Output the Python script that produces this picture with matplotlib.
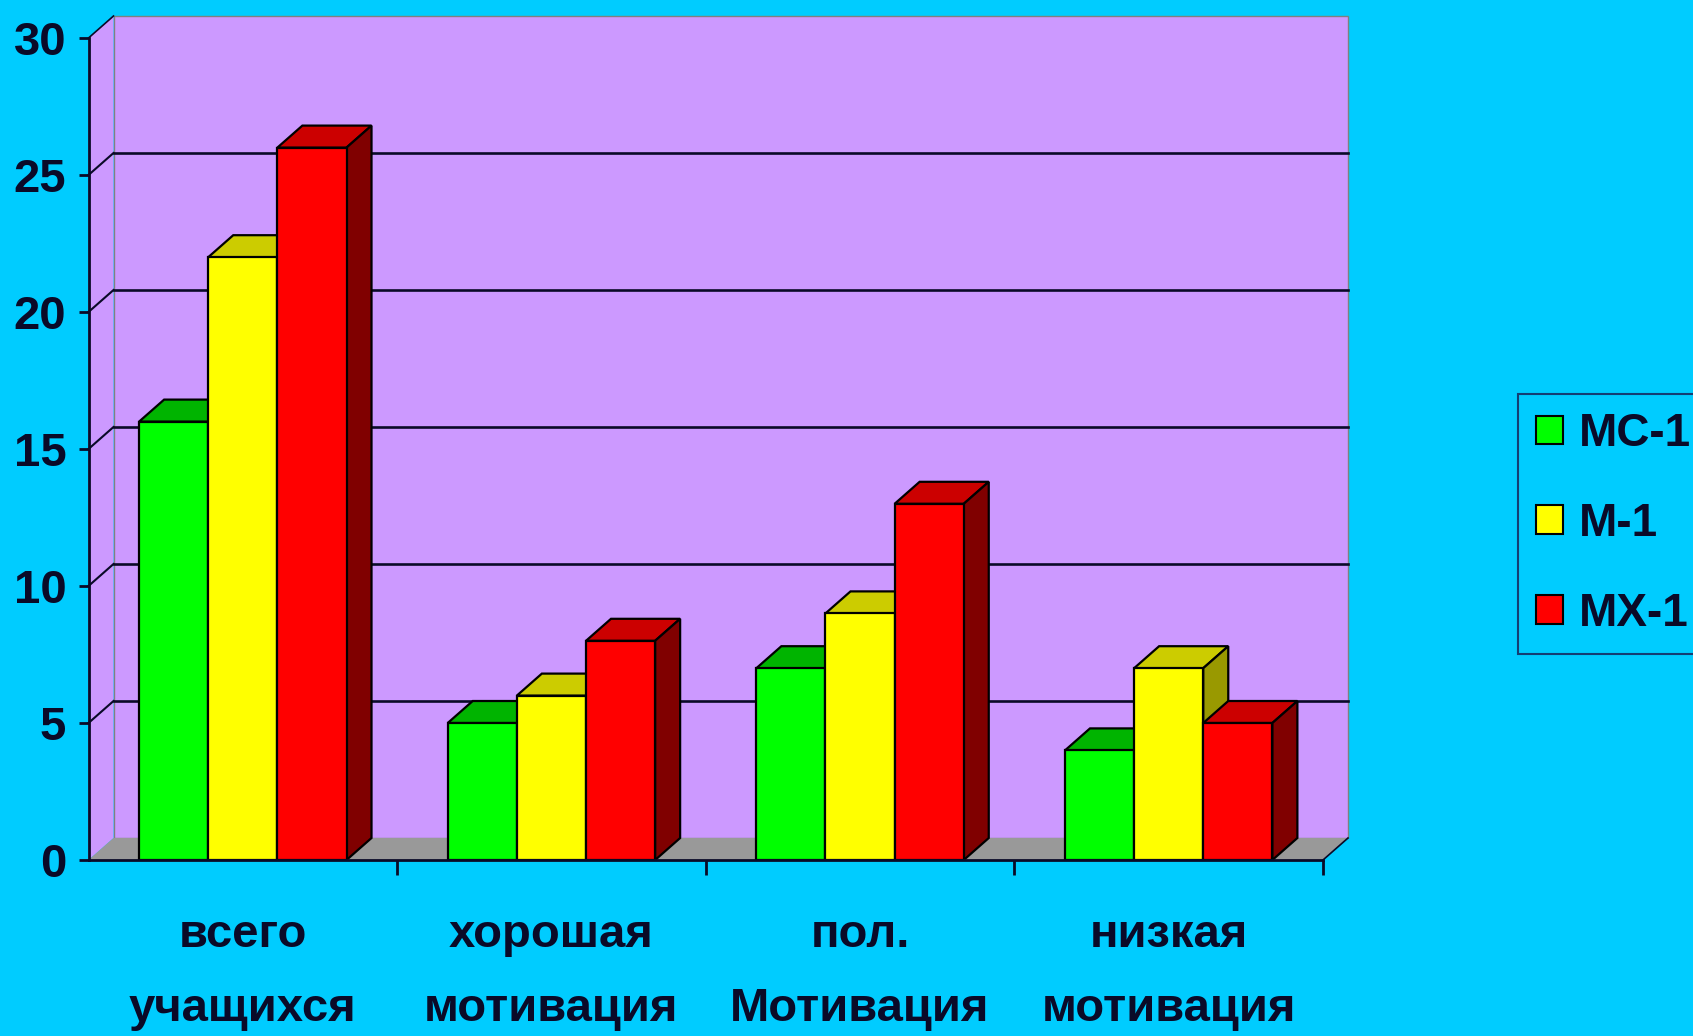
import numpy as np
import matplotlib.pyplot as plt
from matplotlib.patches import Polygon, Patch

categories = ['всего\nучащихся', 'хорошая\nмотивация', 'пол.\nМотивация', 'низкая\nмотивация']
series_names = ['MC-1', 'M-1', 'MX-1']
mc1 = [16, 5, 7, 4]
m1 = [22, 6, 9, 7]
mx1 = [26, 8, 13, 5]
series = [mc1, m1, mx1]

front_c = ['#00FF00', '#FFFF00', '#FF0000']
top_c = ['#00B400', '#CCCC00', '#CC0000']
side_c = ['#008800', '#999900', '#800000']
bg = '#00CCFF'
wall = '#CC99FF'
floor = '#999999'
ink = '#0A0A28'

plt.rcParams['font.family'] = ['Liberation Sans', 'DejaVu Sans']
plt.rcParams['font.weight'] = 'bold'

W, H = 1693, 1036
fig = plt.figure(figsize=(W / 100, H / 100), dpi=100, facecolor=bg)
# front plane of the 3D box
x0p, x1p, y0p, y1p = 88.5, 1323, 860, 38
ax = fig.add_axes([x0p / W, 1 - y0p / H, (x1p - x0p) / W, (y0p - y1p) / H])
ax.set_facecolor('none')
ax.set_xlim(0, 4)
ax.set_ylim(0, 30)

# depth offset (pixels -> data)
dx = 25 / (x1p - x0p) * 4
dy = 22 / (y0p - y1p) * 30

# walls and floor
ax.add_patch(Polygon([(dx, dy), (4 + dx, dy), (4 + dx, 30 + dy), (dx, 30 + dy)],
                     closed=True, facecolor=wall, edgecolor='#808080', lw=1, zorder=0.5, clip_on=False))
ax.add_patch(Polygon([(0, 0), (dx, dy), (dx, 30 + dy), (0, 30)],
                     closed=True, facecolor=wall, edgecolor='none', zorder=0.5, clip_on=False))
ax.add_patch(Polygon([(0, 0), (4, 0), (4 + dx, dy), (dx, dy)],
                     closed=True, facecolor=floor, edgecolor='none', zorder=0.6, clip_on=False))
ax.plot([4, 4 + dx], [0, dy], color=ink, lw=1.2, zorder=0.7, clip_on=False)
ax.plot([0, dx], [30, 30 + dy], color=ink, lw=1.2, zorder=0.7, clip_on=False)

for v in range(5, 30, 5):
    ax.plot([dx, 4 + dx], [v + dy, v + dy], color=ink, lw=1.9, zorder=1, clip_on=False)
    ax.plot([0, dx], [v, v + dy], color=ink, lw=1.5, zorder=1, clip_on=False)

# bars
w = 0.224
for i in range(len(categories)):
    for j, vals in enumerate(series):
        x = i + 0.5 - 1.5 * w + j * w
        v = vals[i]
        z = 3 + i + j * 0.1
        ax.add_patch(Polygon([(x, v), (x + w, v), (x + w + dx, v + dy), (x + dx, v + dy)],
                             closed=True, facecolor=top_c[j], edgecolor='black', lw=1.6, zorder=z))
        ax.add_patch(Polygon([(x + w, 0), (x + w + dx, dy), (x + w + dx, v + dy), (x + w, v)],
                             closed=True, facecolor=side_c[j], edgecolor='black', lw=1.6, zorder=z))
        ax.bar(x, v, width=w, align='edge', color=front_c[j], edgecolor='black', lw=1.6, zorder=z + 0.05)

# axes
for s in ['top', 'right']:
    ax.spines[s].set_visible(False)
for s in ['left', 'bottom']:
    ax.spines[s].set_color(ink)
    ax.spines[s].set_linewidth(2)
    ax.spines[s].set_zorder(10)

ax.set_yticks(range(0, 31, 5))
ax.tick_params(axis='y', direction='out', length=7, width=2, color=ink, labelsize=34,
               labelcolor=ink, pad=9)
ax.set_xticks(np.arange(4) + 0.5)
ax.set_xticklabels(categories, fontsize=34, color=ink, linespacing=1.9)
ax.tick_params(axis='x', length=0, pad=38)
ax.set_xticks([1, 2, 3, 4], minor=True)
ax.tick_params(axis='x', which='minor', direction='out', length=11, width=2, color=ink)

handles = [Patch(facecolor=c, edgecolor='black', lw=1.5) for c in front_c]
leg = fig.legend(handles, series_names, loc='center left', bbox_to_anchor=(1518 / W, 1 - 524 / H),
                 fontsize=33, frameon=True, fancybox=False, handlelength=0.59, handleheight=0.59,
                 handletextpad=0.33, labelspacing=1.0, borderpad=0.4, borderaxespad=0)
leg.get_frame().set_facecolor(bg)
leg.get_frame().set_edgecolor('#1A1A50')
leg.get_frame().set_linewidth(1.5)
for t in leg.get_texts():
    t.set_color(ink)

fig.savefig('out.png', dpi=100, facecolor=bg)
